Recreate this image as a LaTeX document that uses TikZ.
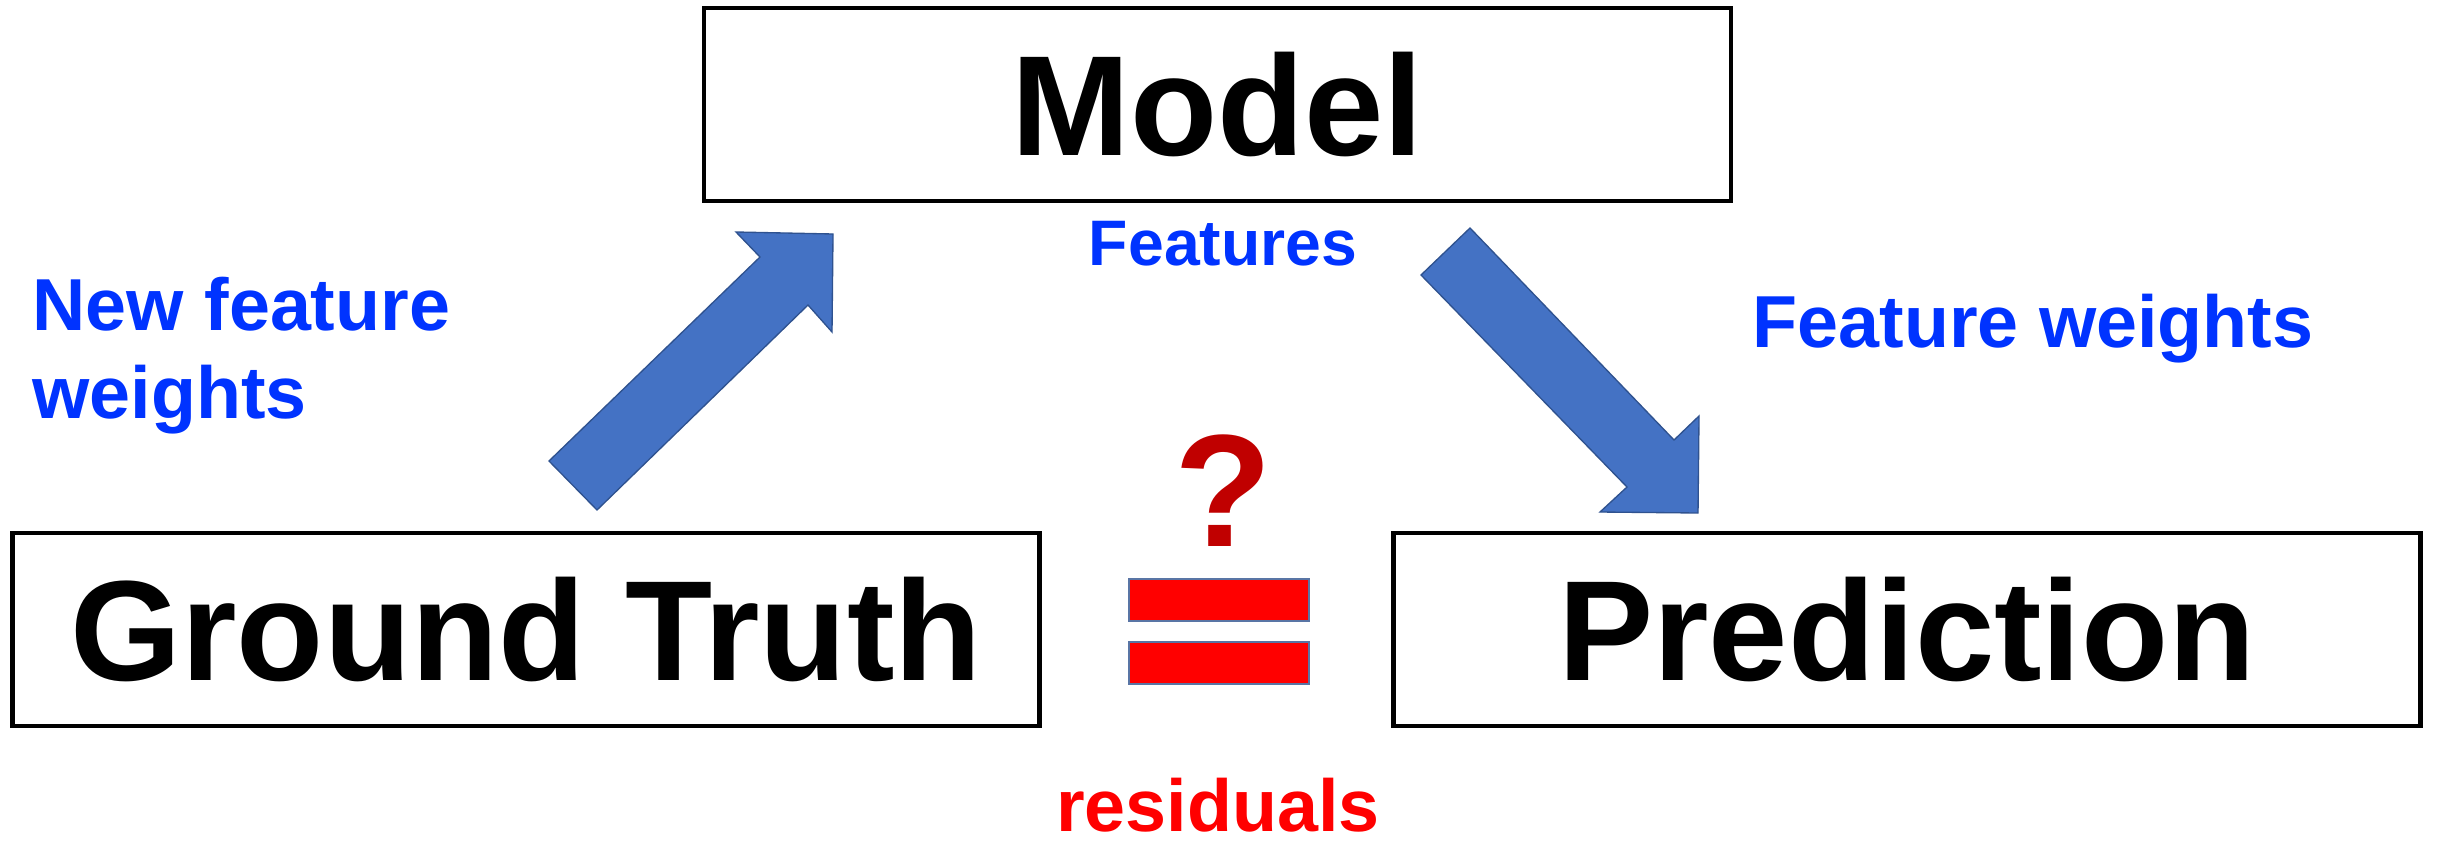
\documentclass[tikz,border=0pt]{standalone}
\usepackage{fontspec}
\setmainfont{Liberation Sans}
\definecolor{arrowfill}{HTML}{4472C4}
\definecolor{arrowline}{HTML}{2F528F}
\definecolor{labelblue}{HTML}{0033FF}
\definecolor{qred}{HTML}{C00000}
\definecolor{eqred}{HTML}{FF0000}
\begin{document}
\begin{tikzpicture}[x=0.3pt,y=-0.3pt,
  bigbox/.style={draw=black,line width=1.3pt,minimum width=308.1pt,minimum height=57.9pt,inner sep=0pt,font=\fontsize{42.8}{50}\selectfont\bfseries},
  blocky/.style={fill=arrowfill,draw=arrowline,line width=0.4pt,line join=miter},
  eqbar/.style={fill=eqred,draw=arrowline!80,line width=0.4pt},
  bluelabel/.style={text=labelblue,inner sep=0pt,font=\fontsize{22.1}{26.5}\selectfont\bfseries}]
\useasboundingbox (0,0) rectangle (2438,841);
% boxes
\node[bigbox] (model) at (1217.5,104.5) {Model};
\node[bigbox] (gt) at (526,629.5) {Ground Truth};
\node[bigbox] (pred) at (1907,629.5) {Prediction};
% block arrows
\draw[blocky] (549,461) -- (760,257) -- (736,232) -- (833,234) -- (832,332) -- (808,305) -- (597,510) -- cycle;
\draw[blocky] (1470,228) -- (1674,440) -- (1699,416) -- (1698,513) -- (1600,512) -- (1627,487) -- (1421,275) -- cycle;
% equals sign
\draw[eqbar] (1129,579) rectangle (1309,621);
\draw[eqbar] (1129,642) rectangle (1309,684);
% question mark
\node[text=qred,inner sep=0pt,anchor=base,font=\fontsize{48}{56}\selectfont\bfseries] (q) at (1223,546) {?};
% labels
\node[bluelabel,anchor=base west] (nfw1) at (32,330) {New feature};
\node[bluelabel,anchor=base west] (nfw2) at (32,418) {weights};
\node[bluelabel,anchor=base,font=\fontsize{19.3}{23}\selectfont\bfseries] (feat) at (1223,265) {Features};
\node[bluelabel,anchor=base west] (fw) at (1752,347) {Feature weights};
\node[text=eqred,inner sep=0pt,anchor=base,font=\fontsize{22.1}{26.5}\selectfont\bfseries] (res) at (1218,831) {residuals};
\end{tikzpicture}
\end{document}
